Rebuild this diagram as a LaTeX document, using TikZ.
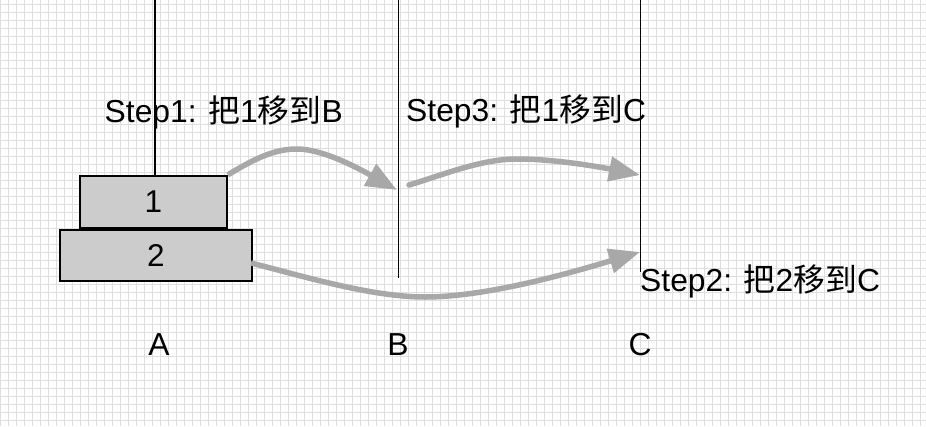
\documentclass[tikz,border=0pt]{standalone}
\usepackage{fontspec}
\setmainfont{Liberation Sans}
\newfontfamily\cjk{Noto Sans CJK SC}
\usetikzlibrary{arrows.meta}
\definecolor{gridc}{RGB}{222,222,222}
\definecolor{arrowc}{RGB}{168,168,168}
\definecolor{diskc}{RGB}{204,204,204}
\tikzset{
  pole/.style={line width=1.8pt, black},
  disk/.style={draw=black, fill=diskc, line width=2.2pt, inner sep=0pt, font=\fontsize{31.5}{36}\selectfont},
  lbl/.style={inner sep=0pt, font=\fontsize{31.8}{36}\selectfont},
  movearrow/.style={draw=arrowc, line width=5.5pt, -{Triangle[length=31pt,width=24pt]}},
}
\begin{document}
\begin{tikzpicture}[x=1pt,y=-1pt]
\useasboundingbox (0,0) rectangle (926,426);
\fill[white] (0,0) rectangle (926,426);
% grid
\foreach \gx in {0.5,8.5,...,926} \draw[gridc, line width=1pt] (\gx,0) -- (\gx,426);
\foreach \gy in {4,12,...,426} \draw[gridc, line width=1pt] (0,\gy) -- (926,\gy);
% poles
\coordinate (atop) at (155,0);
\coordinate (abot) at (155,176);
\coordinate (btop) at (398.5,0);
\coordinate (bbot) at (398.5,278);
\coordinate (ctop) at (640.5,0);
\coordinate (cbot) at (640.5,272);
\draw[pole] (atop) -- (abot);
\draw[pole] (btop) -- (bbot);
\draw[pole] (ctop) -- (cbot);
% disks
\node[disk, minimum width=146.7pt, minimum height=52pt] (d1) at (153.3,202) {1};
\node[disk, minimum width=192pt, minimum height=51pt] (d2) at (156,255.5) {2};
% labels
\node[lbl, anchor=base west] (s1) at (104.5,122.7) {Step1: {\cjk 把}1{\cjk 移到}B};
\node[lbl, anchor=base west] (s3) at (406,121.7) {Step3: {\cjk 把}1{\cjk 移到}C};
\node[lbl, anchor=base west] (s2) at (640,291.7) {Step2: {\cjk 把}2{\cjk 移到}C};
\node[lbl, anchor=base] (la) at (159,355.7) {A};
\node[lbl, anchor=base] (lb) at (398,355.7) {B};
\node[lbl, anchor=base] (lc) at (640,355.7) {C};
% arrows
\coordinate (a1s) at (d1.north east);
\coordinate (a1p) at (297,149);
\coordinate (a1e) at (397,190);
\coordinate (a3s) at (409,185);
\coordinate (a3p) at (517,159);
\coordinate (a3e) at (640,175);
\coordinate (a2s) at (251,263);
\coordinate (a2p) at (425,297);
\coordinate (a2e) at (640,252);
\draw[movearrow] (a1s) .. controls ++(28,-17) and ++(-22,0) .. (a1p) .. controls ++(28,0) and ++(-32,-18) .. (a1e);
\draw[movearrow, line cap=round] (a3s) .. controls ++(31,-9) and ++(-37,0) .. (a3p) .. controls ++(38,0) and ++(-40,-8) .. (a3e);
\draw[movearrow] (a2s) .. controls ++(48,12) and ++(-55,0) .. (a2p) .. controls ++(65,0) and ++(-60,18) .. (a2e);
\end{tikzpicture}
\end{document}
